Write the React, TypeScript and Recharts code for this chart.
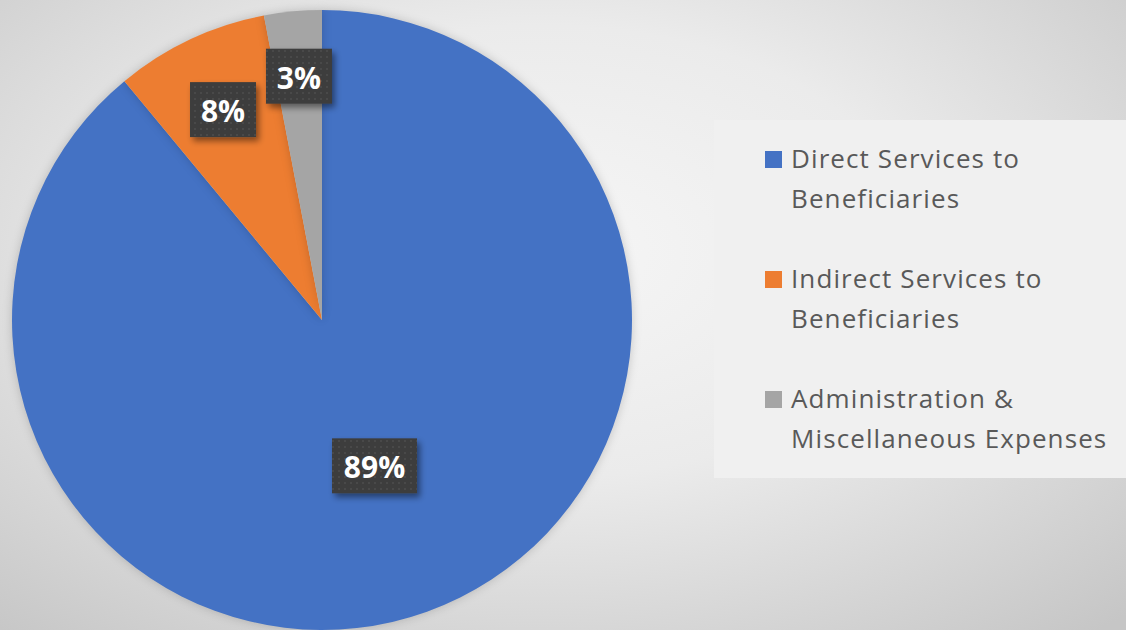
import { PieChart, Pie, Cell, Legend } from "recharts";

const categories = [
  "Direct Services to Beneficiaries",
  "Indirect Services to Beneficiaries",
  "Administration & Miscellaneous Expenses",
];
const shares = [89, 8, 3];
const colors = ["#4472c4", "#ed7d31", "#a5a5a5"];
// how far out each label box sits, as a fraction of the radius
const labelRadius = [0.5, 0.75, 0.79];

const data = categories.map((name, i) => ({ name, value: shares[i] }));

const RAD = Math.PI / 180;

function renderLabel(props: any) {
  const { cx, cy, midAngle, outerRadius, index, value } = props;
  const r = outerRadius * labelRadius[index];
  const x = cx + r * Math.cos(-midAngle * RAD);
  const y = cy + r * Math.sin(-midAngle * RAD);
  const text = `${value}%`;
  const w = text.length > 2 ? 85 : 66;
  const h = 55;
  return (
    <g>
      <rect x={x - w / 2} y={y - h / 2} width={w} height={h} fill="url(#dots)" filter="url(#boxShadow)" />
      <text
        x={x}
        y={y + 1}
        textAnchor="middle"
        dominantBaseline="central"
        fill="#ffffff"
        fontFamily="'Open Sans', sans-serif"
        fontWeight={700}
        fontSize={30}
      >
        {text}
      </text>
    </g>
  );
}

function LegendBox(props: any) {
  // keep the legend in data order, not alphabetical
  const items = [...(props.payload || [])].sort(
    (a: any, b: any) => categories.indexOf(a.value) - categories.indexOf(b.value)
  );
  return (
    <div
      style={{
        width: 412,
        height: 358,
        background: "#f0f0f0",
        boxSizing: "border-box",
        paddingTop: 18,
        paddingLeft: 51,
      }}
    >
      {items.map((entry: any, i: number) => (
        <div key={`item-${i}`} style={{ display: "flex", alignItems: "flex-start", height: 120 }}>
          <div style={{ width: 17, height: 17, background: entry.color, marginTop: 13, marginRight: 9, flex: "none" }} />
          <div
            style={{
              width: 340,
              fontFamily: "'Open Sans', sans-serif",
              fontSize: 26,
              letterSpacing: "1.1px",
              lineHeight: "40px",
              color: "#595959",
            }}
          >
            {entry.value}
          </div>
        </div>
      ))}
    </div>
  );
}

export default function App() {
  return (
    <div
      style={{
        position: "absolute",
        left: 0,
        top: 0,
        width: 1126,
        height: 630,
        background: "radial-gradient(ellipse 75% 80% at 48% 40%, #f6f6f6 0%, #ebebeb 45%, #c6c6c6 100%)",
      }}
    >
      <PieChart width={1126} height={630} margin={{ top: 0, right: 0, bottom: 0, left: 0 }}>
        <defs>
          <pattern id="dots" width="6" height="6" patternUnits="userSpaceOnUse">
            <rect width="6" height="6" fill="#3c3c3c" />
            <circle cx="3" cy="3" r="1" fill="#4e4e4e" />
          </pattern>
          <filter id="boxShadow" x="-30%" y="-30%" width="160%" height="170%">
            <feDropShadow dx="3" dy="4" stdDeviation="3" floodColor="#000" floodOpacity="0.45" />
          </filter>
        </defs>
        <Pie
          data={data}
          dataKey="value"
          nameKey="name"
          cx={322}
          cy={320}
          outerRadius={310}
          startAngle={90}
          endAngle={-270}
          stroke="none"
          label={renderLabel}
          labelLine={false}
          isAnimationActive={false}
          style={{ filter: "drop-shadow(0 0 5px rgba(0,0,0,0.18))" }}
        >
          {data.map((entry, i) => (
            <Cell key={`cell-${i}`} fill={colors[i]} />
          ))}
        </Pie>
        <Legend
          content={<LegendBox />}
          wrapperStyle={{ position: "absolute", left: 714, top: 120, width: 412, height: 358 }}
        />
      </PieChart>
    </div>
  );
}
